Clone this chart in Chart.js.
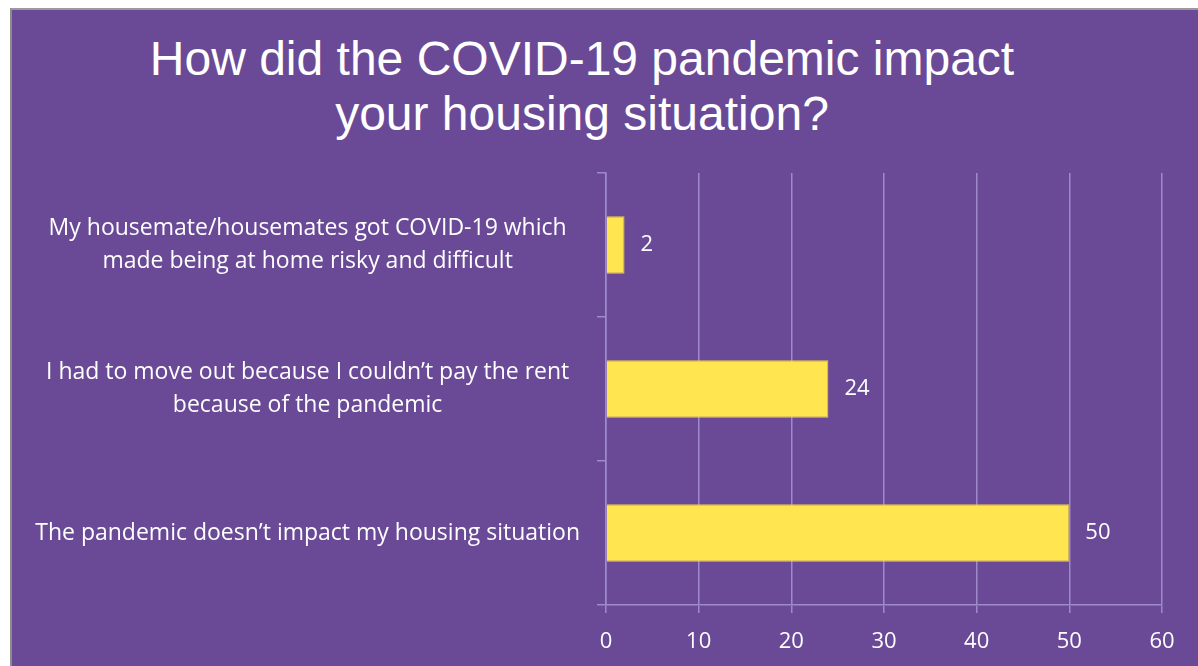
<!DOCTYPE html>
<html>
<head>
<meta charset="utf-8">
<script src="https://cdn.jsdelivr.net/npm/chart.js@4/dist/chart.umd.min.js"></script>
<style>
  html, body { margin: 0; padding: 0; background: #ffffff; width: 1198px; height: 666px; overflow: hidden; }
  #frame {
    position: absolute; left: 10px; top: 8px; width: 1186px; height: 656px;
    background: #6A4A96; border-left: 2px solid #8C8C8C; border-top: 2px solid #9A9A9A;
  }
  #title {
    position: absolute; left: 0; top: 31px; width: 1164px; text-align: center;
    font-family: "Liberation Sans", Arial, sans-serif; font-size: 48px; line-height: 55px;
    color: #ffffff;
  }
  #chartBox { position: absolute; left: 12px; top: 10px; width: 1186px; height: 656px; }
</style>
</head>
<body>
<div id="frame"></div>
<div id="title">How did the COVID-19 pandemic impact<br>your housing situation?</div>
<div id="chartBox"><canvas id="chart"></canvas></div>
<script>
// Survey answers and counts (top to bottom)
const categories = [
    ['My housemate/housemates got COVID-19 which', 'made being at home risky and difficult'],
    ['I had to move out because I couldn\u2019t pay the rent', 'because of the pandemic'],
    'The pandemic doesn\u2019t impact my housing situation'
];
const counts = [2, 24, 50];
const xTicks = [0, 10, 20, 30, 40, 50, 60];

const labelFont = { family: '"Open Sans", sans-serif', size: 23, lineHeight: 1.4 };
const numFont = { family: '"Open Sans", sans-serif', size: 22 };
const gridColor = '#9E89CB';

// Writes the count just to the right of each bar
const valueLabels = {
    id: 'valueLabels',
    afterDatasetsDraw(chart) {
        const ctx = chart.ctx;
        const meta = chart.getDatasetMeta(0);
        ctx.save();
        ctx.fillStyle = '#ffffff';
        ctx.font = numFont.size + 'px ' + numFont.family;
        ctx.textBaseline = 'middle';
        ctx.textAlign = 'left';
        meta.data.forEach((bar, i) => {
            ctx.fillText(String(counts[i]), bar.x + 16, bar.y);
        });
        ctx.restore();
    }
};

new Chart(document.getElementById('chart'), {
    type: 'bar',
    data: {
        labels: categories,
        datasets: [{
            data: counts,
            backgroundColor: '#FFE54F',
            borderColor: '#E6CC48',
            borderWidth: 1,
            barPercentage: 0.4,
            categoryPercentage: 1
        }]
    },
    plugins: [valueLabels],
    options: {
        indexAxis: 'y',
        responsive: true,
        maintainAspectRatio: false,
        animation: false,
        layout: { padding: { top: 163, right: 36, left: 0, bottom: 0 } },
        plugins: {
            legend: { display: false },
            tooltip: { enabled: false }
        },
        scales: {
            x: {
                min: 0,
                max: 60,
                afterBuildTicks: (scale) => { scale.ticks = xTicks.map(v => ({ value: v })); },
                afterFit: (scale) => { scale.height = 61; },
                grid: { color: gridColor, lineWidth: 1.5, tickLength: 8 },
                border: { color: gridColor, width: 1.5 },
                ticks: { color: '#ffffff', font: numFont, padding: 16 }
            },
            y: {
                afterFit: (scale) => { scale.width = 594; },
                grid: { color: gridColor, lineWidth: 1.5, tickLength: 9, drawOnChartArea: false },
                border: { color: gridColor, width: 1.5 },
                ticks: { color: '#ffffff', font: labelFont, padding: 17, crossAlign: 'center' }
            }
        }
    }
});
</script>
</body>
</html>
